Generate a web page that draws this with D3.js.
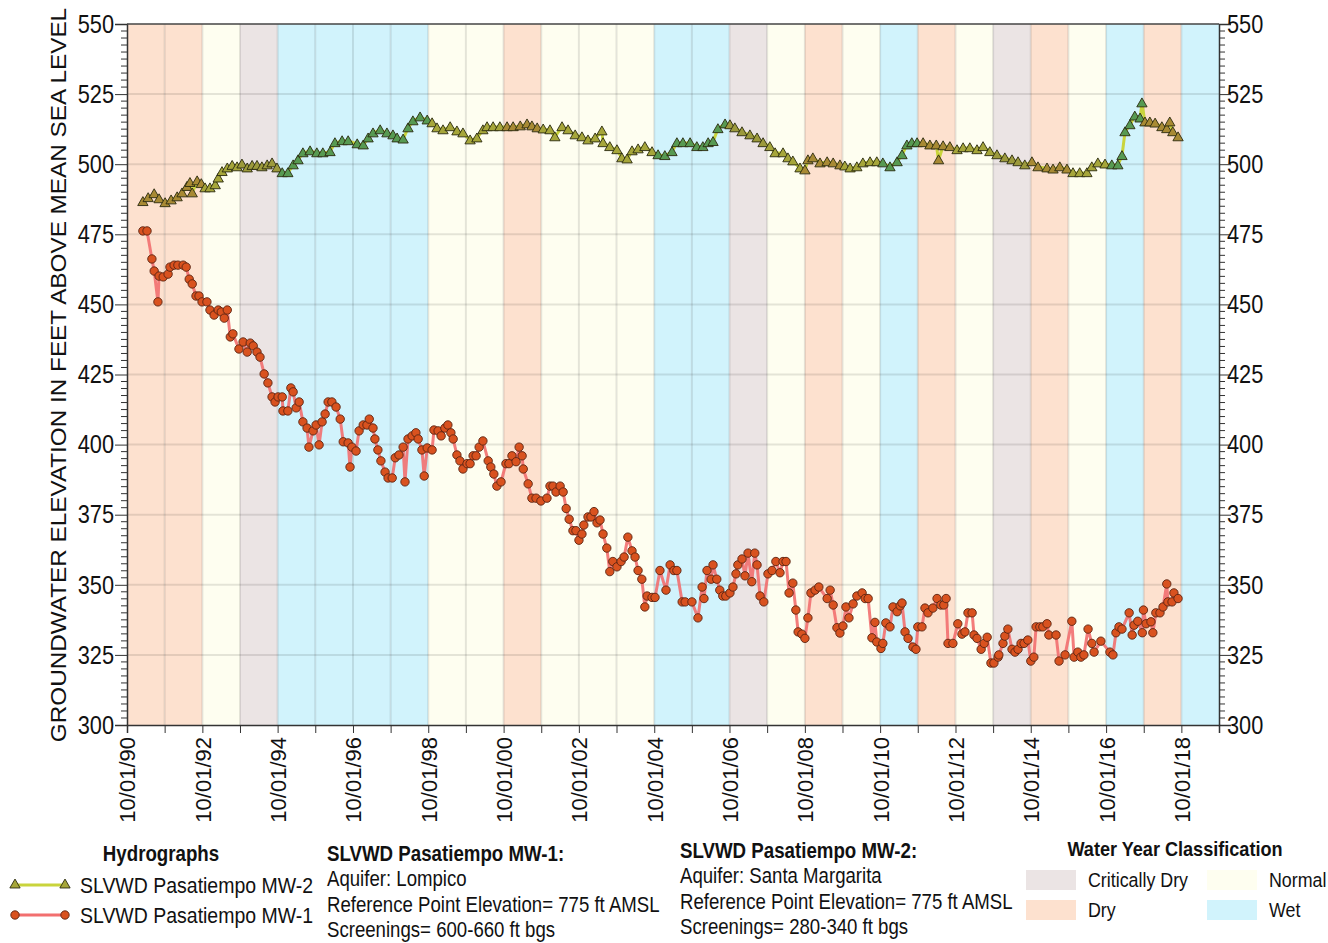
<!DOCTYPE html>
<html>
<head>
<meta charset="utf-8">
<script src="https://cdn.jsdelivr.net/npm/d3@7"></script>
<style>
  html, body { margin: 0; padding: 0; background: #ffffff; }
  svg { display: block; font-family: "Liberation Sans", Arial, sans-serif; }
</style>
</head>
<body>
<svg id="chart" width="1328" height="943"></svg>
<script>
// Water year classification, one entry per water year (Oct 1 - Sep 30), WY1991 .. WY2019
const waterYears = [1991, 1992, 1993, 1994, 1995, 1996, 1997, 1998, 1999, 2000,
                    2001, 2002, 2003, 2004, 2005, 2006, 2007, 2008, 2009, 2010,
                    2011, 2012, 2013, 2014, 2015, 2016, 2017, 2018, 2019];
const waterYearClass = ["Dry", "Dry", "Normal", "Critically Dry", "Wet", "Wet", "Wet", "Wet", "Normal", "Normal",
                        "Dry", "Normal", "Normal", "Normal", "Wet", "Wet", "Critically Dry", "Normal", "Dry", "Normal",
                        "Wet", "Dry", "Normal", "Critically Dry", "Dry", "Normal", "Wet", "Dry", "Wet"];

// SLVWD Pasatiempo MW-1 (Lompico aquifer): measurement dates (decimal years) and elevations (ft AMSL)
const mw1Dates = [
  1991.17, 1991.28, 1991.41, 1991.47, 1991.57, 1991.60, 1991.71, 1991.84, 1991.89, 1992.00,
  1992.10, 1992.24, 1992.32, 1992.40, 1992.48, 1992.58, 1992.66, 1992.74, 1992.87, 1992.95,
  1993.06, 1993.17, 1993.25, 1993.33, 1993.41, 1993.49, 1993.56, 1993.72, 1993.83, 1993.94,
  1994.02, 1994.10, 1994.20, 1994.28, 1994.39, 1994.49, 1994.60, 1994.68, 1994.76, 1994.87,
  1994.89, 1995.02, 1995.10, 1995.16, 1995.24, 1995.32, 1995.42, 1995.53, 1995.58, 1995.69,
  1995.77, 1995.85, 1995.93, 1996.01, 1996.09, 1996.19, 1996.30, 1996.41, 1996.49, 1996.62,
  1996.67, 1996.72, 1996.83, 1996.91, 1997.02, 1997.12, 1997.18, 1997.28, 1997.33, 1997.41,
  1997.49, 1997.60, 1997.68, 1997.79, 1997.87, 1997.97, 1998.08, 1998.13, 1998.21, 1998.32,
  1998.42, 1998.48, 1998.58, 1998.64, 1998.72, 1998.85, 1998.90, 1999.01, 1999.09, 1999.19,
  1999.27, 1999.35, 1999.41, 1999.51, 1999.59, 1999.67, 1999.78, 1999.86, 1999.94, 2000.02,
  2000.10, 2000.20, 2000.34, 2000.41, 2000.49, 2000.57, 2000.68, 2000.81, 2000.89, 2000.97,
  2001.08, 2001.16, 2001.24, 2001.27, 2001.40, 2001.50, 2001.61, 2001.74, 2001.90, 2001.98,
  2002.06, 2002.14, 2002.25, 2002.33, 2002.41, 2002.49, 2002.59, 2002.67, 2002.75, 2002.83,
  2002.88, 2002.99, 2003.07, 2003.15, 2003.23, 2003.31, 2003.39, 2003.49, 2003.57, 2003.65,
  2003.76, 2003.87, 2003.95, 2004.05, 2004.16, 2004.24, 2004.32, 2004.42, 2004.50, 2004.56,
  2004.69, 2004.77, 2004.90, 2005.06, 2005.17, 2005.27, 2005.35, 2005.49, 2005.57, 2005.75,
  2005.91, 2006.02, 2006.07, 2006.15, 2006.26, 2006.31, 2006.41, 2006.49, 2006.57, 2006.65,
  2006.76, 2006.84, 2006.92, 2006.97, 2007.08, 2007.16, 2007.24, 2007.34, 2007.42, 2007.48,
  2007.56, 2007.66, 2007.77, 2007.88, 2007.98, 2008.09, 2008.17, 2008.25, 2008.33, 2008.43,
  2008.51, 2008.57, 2008.67, 2008.75, 2008.83, 2008.91, 2009.02, 2009.12, 2009.34, 2009.42,
  2009.50, 2009.60, 2009.68, 2009.76, 2009.84, 2009.92, 2010.03, 2010.13, 2010.27, 2010.35,
  2010.43, 2010.53, 2010.61, 2010.66, 2010.77, 2010.82, 2010.90, 2011.01, 2011.09, 2011.20,
  2011.28, 2011.33, 2011.41, 2011.49, 2011.62, 2011.70, 2011.75, 2011.86, 2011.94, 2012.02,
  2012.15, 2012.26, 2012.36, 2012.44, 2012.50, 2012.55, 2012.68, 2012.81, 2012.92, 2013.00,
  2013.08, 2013.19, 2013.24, 2013.32, 2013.43, 2013.51, 2013.59, 2013.69, 2013.77, 2013.88,
  2013.90, 2014.01, 2014.06, 2014.14, 2014.25, 2014.33, 2014.41, 2014.49, 2014.57, 2014.67,
  2014.75, 2014.83, 2014.89, 2014.99, 2015.07, 2015.18, 2015.23, 2015.42, 2015.50, 2015.66,
  2015.84, 2015.90, 2016.00, 2016.08, 2016.16, 2016.27, 2016.37, 2016.43, 2016.61, 2016.85,
  2016.93, 2017.01, 2017.09, 2017.17, 2017.36, 2017.44, 2017.49, 2017.59, 2017.71, 2017.74,
  2017.81, 2017.94, 2017.99, 2018.07, 2018.18, 2018.26, 2018.36, 2018.39, 2018.50, 2018.55,
  2018.66
];
const mw1Values = [
  476.2, 476.2, 466.2, 461.9, 450.9, 460.1, 459.8, 460.8, 463.3, 464.0,
  464.0, 464.0, 463.3, 459.0, 457.3, 453.0, 453.0, 450.9, 450.9, 448.0,
  446.2, 448.0, 447.3, 445.1, 448.0, 438.4, 439.5, 434.1, 436.6, 433.0,
  436.2, 435.2, 433.0, 431.2, 425.2, 422.0, 417.0, 415.2, 417.0, 417.0,
  412.0, 412.0, 420.2, 418.8, 413.1, 415.2, 408.1, 405.9, 399.1, 404.9,
  407.0, 399.9, 408.1, 410.9, 415.2, 415.2, 413.4, 409.1, 401.0, 400.6,
  392.0, 399.1, 397.7, 404.9, 407.0, 407.0, 409.1, 405.9, 402.0, 398.1,
  394.2, 390.2, 388.1, 388.1, 395.3, 396.3, 399.1, 386.7, 402.0, 403.1,
  404.2, 402.0, 398.1, 388.8, 398.8, 398.1, 405.2, 404.9, 403.1, 405.9,
  407.0, 404.2, 402.0, 396.3, 394.2, 391.3, 393.2, 393.2, 396.0, 396.0,
  399.1, 401.3, 394.2, 392.0, 389.5, 385.2, 386.7, 393.2, 393.2, 396.0,
  393.9, 399.1, 396.0, 391.3, 386.0, 380.9, 380.9, 379.9, 380.9, 385.2,
  385.2, 383.1, 385.2, 383.1, 377.2, 373.4, 369.3, 369.3, 365.9, 368.1,
  371.3, 374.2, 374.2, 376.1, 372.1, 373.1, 368.1, 363.1, 354.7, 358.3,
  356.4, 358.3, 359.9, 367.0, 362.1, 359.9, 355.1, 352.0, 342.1, 346.0,
  345.5, 345.5, 355.1, 348.1, 357.1, 355.1, 355.1, 343.9, 343.9, 343.9,
  338.2, 349.2, 345.1, 355.1, 352.0, 357.1, 352.0, 348.1, 346.0, 346.0,
  347.1, 349.2, 353.9, 357.1, 359.2, 353.2, 361.3, 351.1, 361.3, 357.1,
  346.0, 343.9, 353.9, 355.1, 358.3, 354.3, 358.3, 358.3, 347.1, 350.6,
  341.0, 333.2, 332.4, 330.9, 338.2, 347.1, 348.1, 349.2, 345.1, 348.1,
  342.8, 334.7, 332.8, 335.3, 342.1, 338.2, 343.2, 346.0, 347.1, 345.1,
  345.1, 331.1, 336.6, 329.6, 327.3, 329.1, 336.4, 335.0, 342.1, 340.4,
  342.5, 343.5, 333.2, 330.9, 327.8, 327.0, 335.0, 335.0, 341.7, 340.0,
  341.7, 345.1, 342.8, 342.8, 345.1, 329.1, 329.1, 336.1, 332.4, 333.2,
  340.0, 340.0, 332.1, 330.9, 327.0, 329.1, 331.3, 322.1, 322.1, 324.2,
  325.0, 329.1, 331.7, 334.2, 327.0, 326.0, 327.0, 329.1, 329.1, 330.3,
  322.8, 324.2, 335.0, 335.0, 335.0, 336.1, 332.1, 332.1, 322.8, 325.0,
  337.0, 324.2, 326.0, 324.2, 325.0, 334.2, 329.1, 326.0, 329.9, 326.0,
  325.0, 332.9, 335.0, 334.2, 340.0, 332.1, 335.6, 337.0, 332.9, 341.0,
  336.1, 336.8, 332.9, 340.0, 340.0, 342.1, 350.3, 343.9, 343.9, 347.1,
  345.1
];

// SLVWD Pasatiempo MW-2 (Santa Margarita aquifer): measurement dates (decimal years) and elevations (ft AMSL)
const mw2Dates = [
  1991.17, 1991.31, 1991.47, 1991.60, 1991.76, 1991.92, 1992.08, 1992.21, 1992.34, 1992.42,
  1992.48, 1992.61, 1992.72, 1992.82, 1992.95, 1993.09, 1993.17, 1993.27, 1993.41, 1993.54,
  1993.67, 1993.80, 1993.94, 1994.07, 1994.20, 1994.33, 1994.47, 1994.60, 1994.73, 1994.87,
  1995.02, 1995.16, 1995.29, 1995.42, 1995.61, 1995.79, 1995.95, 1996.14, 1996.27, 1996.46,
  1996.62, 1996.86, 1997.02, 1997.15, 1997.28, 1997.47, 1997.65, 1997.81, 1997.92, 1998.08,
  1998.21, 1998.34, 1998.53, 1998.72, 1998.85, 1998.98, 1999.14, 1999.33, 1999.51, 1999.67,
  1999.86, 2000.04, 2000.20, 2000.31, 2000.47, 2000.65, 2000.84, 2001.00, 2001.19, 2001.37,
  2001.50, 2001.64, 2001.80, 2001.98, 2002.11, 2002.30, 2002.46, 2002.65, 2002.83, 2002.99,
  2003.18, 2003.36, 2003.39, 2003.57, 2003.76, 2003.89, 2004.03, 2004.16, 2004.32, 2004.50,
  2004.69, 2004.85, 2005.03, 2005.22, 2005.35, 2005.51, 2005.70, 2005.88, 2006.04, 2006.18,
  2006.31, 2006.44, 2006.63, 2006.76, 2006.89, 2007.08, 2007.29, 2007.48, 2007.64, 2007.82,
  2007.96, 2008.17, 2008.30, 2008.43, 2008.62, 2008.75, 2008.83, 2008.96, 2009.15, 2009.34,
  2009.50, 2009.68, 2009.81, 2009.95, 2010.13, 2010.29, 2010.48, 2010.66, 2010.82, 2011.01,
  2011.20, 2011.33, 2011.46, 2011.59, 2011.73, 2011.89, 2012.07, 2012.24, 2012.30, 2012.42,
  2012.60, 2012.79, 2012.95, 2013.13, 2013.32, 2013.48, 2013.66, 2013.85, 2014.06, 2014.25,
  2014.41, 2014.59, 2014.78, 2014.94, 2015.18, 2015.34, 2015.52, 2015.71, 2015.87, 2016.05,
  2016.24, 2016.37, 2016.53, 2016.72, 2016.90, 2017.06, 2017.17, 2017.25, 2017.38, 2017.51,
  2017.65, 2017.70, 2017.78, 2017.91, 2018.05, 2018.23, 2018.36, 2018.44, 2018.52, 2018.66
];
const mw2Values = [
  486.6, 488.0, 489.4, 487.6, 486.2, 487.2, 488.3, 489.7, 492.0, 493.4,
  489.7, 494.0, 493.0, 491.5, 491.5, 492.6, 495.0, 497.3, 498.6, 499.5,
  499.0, 500.0, 498.6, 499.5, 499.5, 499.0, 499.7, 500.4, 498.6, 496.9,
  496.9, 499.7, 501.5, 504.0, 504.7, 504.0, 504.0, 504.4, 507.6, 508.3,
  508.3, 507.2, 506.8, 509.3, 511.1, 512.2, 511.1, 510.4, 509.3, 508.9,
  512.9, 515.4, 516.8, 515.7, 514.7, 512.9, 512.2, 513.3, 511.8, 511.1,
  508.6, 509.3, 512.2, 513.3, 513.3, 513.3, 513.3, 513.3, 513.6, 514.3,
  513.6, 512.9, 512.5, 512.2, 509.7, 513.3, 512.2, 510.4, 509.7, 508.6,
  509.3, 511.8, 507.6, 506.2, 505.1, 502.2, 501.8, 504.7, 505.4, 506.2,
  504.4, 503.3, 503.0, 504.4, 507.6, 507.6, 507.6, 506.2, 506.2, 507.6,
  508.0, 512.6, 514.3, 514.0, 512.9, 511.5, 510.4, 509.3, 507.6, 506.2,
  504.0, 504.0, 502.2, 501.1, 498.6, 497.9, 501.5, 502.2, 500.4, 500.8,
  500.4, 499.7, 499.3, 498.6, 499.0, 500.4, 500.8, 500.8, 500.4, 499.0,
  500.8, 503.3, 506.8, 507.6, 507.6, 507.6, 506.8, 506.8, 501.5, 506.5,
  506.2, 505.1, 505.8, 505.8, 505.1, 506.2, 504.4, 503.3, 502.2, 501.5,
  500.8, 499.7, 500.8, 499.0, 498.6, 498.2, 499.0, 498.2, 496.9, 496.9,
  496.9, 499.0, 500.4, 500.0, 499.7, 499.7, 503.0, 511.5, 514.0, 517.1,
  516.4, 521.8, 515.0, 515.0, 514.6, 513.3, 512.6, 515.0, 511.5, 509.7
];

// Axis tick values
const yTickValues = [300, 325, 350, 375, 400, 425, 450, 475, 500, 525, 550];
const xTickYears = d3.range(1990, 2020);

// Colours
const classColor = {
  "Critically Dry": "#ebe4e4",
  "Dry": "#fde1cf",
  "Normal": "#fefef0",
  "Wet": "#d1f3fc"
};
const triangleFill = {
  "Critically Dry": "#9c9a3c",
  "Dry": "#a88a34",
  "Normal": "#a6a63a",
  "Wet": "#579a52"
};

// The lettering is set in a slightly condensed cut of the sans face
const SX = 0.87;

const svg = d3.select("#chart");
const margin = { left: 127, right: 1219, top: 24, bottom: 725 };

function toDate(dy) {
  const yr = Math.floor(dy);
  const a = new Date(yr, 0, 1), b = new Date(yr + 1, 0, 1);
  return new Date(a.getTime() + (dy - yr) * (b - a));
}
function classOf(date) {
  const wy = date.getMonth() >= 9 ? date.getFullYear() + 1 : date.getFullYear();
  const i = waterYears.indexOf(wy);
  return i >= 0 ? waterYearClass[i] : "Normal";
}
// Horizontal text, condensed
function label(parent, px, py, txt, size, opts = {}) {
  return parent.append("text")
    .attr("transform", `translate(${px},${py}) scale(${SX},1)`)
    .attr("font-size", size + "px")
    .attr("font-weight", opts.bold ? "bold" : "normal")
    .attr("text-anchor", opts.anchor || "start")
    .attr("dy", opts.dy || null)
    .attr("fill", "#111")
    .text(txt);
}

const x = d3.scaleTime()
  .domain([new Date(1990, 9, 1), new Date(2019, 9, 1)])
  .range([margin.left, margin.right]);
const y = d3.scaleLinear()
  .domain([300, 550])
  .range([margin.bottom, margin.top]);

// Water-year background bands
svg.append("g").selectAll("rect")
  .data(waterYears)
  .join("rect")
  .attr("x", d => x(new Date(d - 1, 9, 1)))
  .attr("width", d => x(new Date(d, 9, 1)) - x(new Date(d - 1, 9, 1)))
  .attr("y", margin.top)
  .attr("height", margin.bottom - margin.top)
  .attr("fill", (d, i) => classColor[waterYearClass[i]]);

// Grid lines
const grid = svg.append("g").attr("stroke", "#000").attr("stroke-opacity", 0.1).attr("stroke-width", 2);
grid.selectAll("line.v")
  .data(xTickYears.slice(1, -1))
  .join("line")
  .attr("x1", d => x(new Date(d, 9, 1))).attr("x2", d => x(new Date(d, 9, 1)))
  .attr("y1", margin.top).attr("y2", margin.bottom);
grid.selectAll("line.h")
  .data(yTickValues.slice(1, -1))
  .join("line")
  .attr("x1", margin.left).attr("x2", margin.right)
  .attr("y1", d => y(d)).attr("y2", d => y(d));

// Series
const mw1 = mw1Dates.map((d, i) => ({ date: toDate(d), value: mw1Values[i] }));
const mw2 = mw2Dates.map((d, i) => ({ date: toDate(d), value: mw2Values[i] }));
const line = d3.line().x(d => x(d.date)).y(d => y(d.value));

svg.append("path").datum(mw2)
  .attr("d", line).attr("fill", "none")
  .attr("stroke", "#c9d43c").attr("stroke-width", 3).attr("stroke-linejoin", "round");
svg.append("path").datum(mw1)
  .attr("d", line).attr("fill", "none")
  .attr("stroke", "#f26f6f").attr("stroke-width", 3).attr("stroke-opacity", 0.9).attr("stroke-linejoin", "round");

const tri = d3.symbol().type(d3.symbolTriangle).size(46);
svg.append("g").selectAll("path")
  .data(mw2)
  .join("path")
  .attr("transform", d => `translate(${x(d.date)},${y(d.value) + 0.8})`)
  .attr("d", tri)
  .attr("fill", d => triangleFill[classOf(d.date)])
  .attr("stroke", "#2a2a10").attr("stroke-width", 0.9);

svg.append("g").selectAll("circle")
  .data(mw1)
  .join("circle")
  .attr("cx", d => x(d.date)).attr("cy", d => y(d.value))
  .attr("r", 4.2)
  .attr("fill", "#d9521f")
  .attr("stroke", "#5a2412").attr("stroke-width", 0.9);

// Axes (tick marks from d3 axes; labels set separately in the condensed face)
const yAxisL = svg.append("g").attr("transform", `translate(${margin.left},0)`)
  .call(d3.axisLeft(y).tickValues(yTickValues).tickSize(12).tickFormat(""));
const yAxisR = svg.append("g").attr("transform", `translate(${margin.right},0)`)
  .call(d3.axisRight(y).tickValues(yTickValues).tickSize(12).tickFormat(""));
[yAxisL, yAxisR].forEach(g => {
  g.selectAll("line").attr("stroke", "#333");
  g.select(".domain").attr("stroke", "#333").attr("stroke-width", 1.5);
});
const yLabels = svg.append("g");
yTickValues.forEach(v => {
  label(yLabels, margin.left - 13, y(v), String(v), 25, { anchor: "end", dy: "0.35em" });
  label(yLabels, margin.right + 8, y(v), String(v), 25, { anchor: "start", dy: "0.35em" });
});

// Minor y ticks every 2.5 ft
const minorY = d3.range(300, 550.01, 2.5).filter(v => v % 25 !== 0);
svg.append("g").selectAll("line")
  .data(minorY).join("line")
  .attr("x1", margin.left - 6).attr("x2", margin.left)
  .attr("y1", d => y(d)).attr("y2", d => y(d)).attr("stroke", "#333");
svg.append("g").selectAll("line")
  .data(minorY).join("line")
  .attr("x1", margin.right).attr("x2", margin.right + 6)
  .attr("y1", d => y(d)).attr("y2", d => y(d)).attr("stroke", "#333");

// Top border
svg.append("line")
  .attr("x1", margin.left).attr("x2", margin.right)
  .attr("y1", margin.top).attr("y2", margin.top)
  .attr("stroke", "#444").attr("stroke-width", 1.5);

const fmt = d3.timeFormat("%m/%d/%y");
const xAxis = svg.append("g").attr("transform", `translate(0,${margin.bottom})`)
  .call(d3.axisBottom(x)
    .tickValues(xTickYears.map(yr => new Date(yr, 9, 1)))
    .tickSize(8)
    .tickFormat(d => (d.getFullYear() % 2 === 0 && d.getFullYear() < 2019) ? fmt(d) : ""));
xAxis.select(".domain").attr("stroke", "#333").attr("stroke-width", 1.5);
xAxis.selectAll("line").attr("stroke", "#333");
xAxis.selectAll("text")
  .attr("font-size", "22px").attr("fill", "#111")
  .attr("font-family", "'Liberation Sans', Arial, sans-serif")
  .attr("transform", "rotate(-90)")
  .attr("text-anchor", "end")
  .attr("x", -12).attr("y", 0).attr("dy", "0.36em");

// Y axis title
svg.append("text")
  .attr("transform", `translate(58,375) scale(${SX},1) rotate(-90)`)
  .attr("text-anchor", "middle")
  .attr("dy", "0.36em")
  .attr("font-size", "24.3px").attr("fill", "#111")
  .text("GROUNDWATER ELEVATION IN FEET ABOVE MEAN SEA LEVEL");

// Legend: hydrographs
const lg = svg.append("g");
label(lg, 161, 861, "Hydrographs", 21.5, { bold: true, anchor: "middle" });
const legendRows = [
  { label: "SLVWD Pasatiempo MW-2", y: 885, color: "#c9d43c", marker: "tri" },
  { label: "SLVWD Pasatiempo MW-1", y: 915, color: "#f26f6f", marker: "circ" }
];
legendRows.forEach(r => {
  lg.append("line").attr("x1", 15).attr("x2", 65).attr("y1", r.y).attr("y2", r.y)
    .attr("stroke", r.color).attr("stroke-width", 3);
  [15, 65].forEach(px => {
    if (r.marker === "tri") {
      lg.append("path").attr("d", tri).attr("transform", `translate(${px},${r.y})`)
        .attr("fill", "#a6a63a").attr("stroke", "#2a2a10").attr("stroke-width", 0.9);
    } else {
      lg.append("circle").attr("cx", px).attr("cy", r.y).attr("r", 4.2)
        .attr("fill", "#d9521f").attr("stroke", "#5a2412").attr("stroke-width", 0.9);
    }
  });
  label(lg, 80, r.y, r.label, 22.4, { dy: "0.36em" });
});

// Legend: well details
const wellInfo = [
  { x: 327, y: 861, lines: ["SLVWD Pasatiempo MW-1:", "Aquifer: Lompico", "Reference Point Elevation= 775 ft AMSL", "Screenings= 600-660 ft bgs"] },
  { x: 680, y: 858, lines: ["SLVWD Pasatiempo MW-2:", "Aquifer: Santa Margarita", "Reference Point Elevation= 775 ft AMSL", "Screenings= 280-340 ft bgs"] }
];
wellInfo.forEach(w => {
  w.lines.forEach((t, i) => {
    label(lg, w.x, w.y + i * 25.3, t, i === 0 ? 21.5 : 21.4, { bold: i === 0 });
  });
});

// Legend: water year classification
label(lg, 1175, 856, "Water Year Classification", 20.8, { bold: true, anchor: "middle" });
const classLegend = [
  { label: "Critically Dry", x: 1026, y: 870 },
  { label: "Normal", x: 1207, y: 870 },
  { label: "Dry", x: 1026, y: 900 },
  { label: "Wet", x: 1207, y: 900 }
];
classLegend.forEach(c => {
  lg.append("rect").attr("x", c.x).attr("y", c.y).attr("width", 50).attr("height", 20)
    .attr("fill", classColor[c.label]);
  label(lg, c.x + 62, c.y + 10, c.label, 20.5, { dy: "0.36em" });
});
</script>
</body>
</html>
